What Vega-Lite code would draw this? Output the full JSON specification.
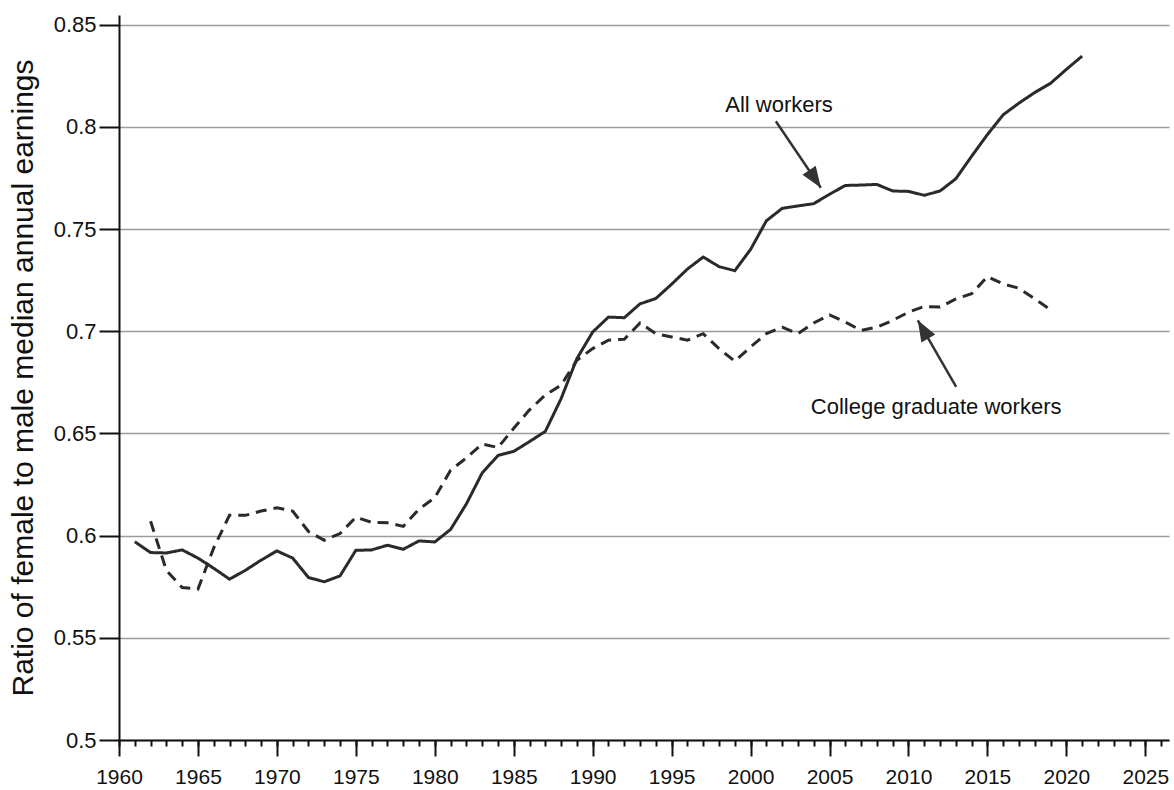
{
  "$schema": "https://vega.github.io/schema/vega-lite/v6.json",
  "width": 1050,
  "height": 725,
  "autosize": {"type": "none"},
  "padding": {"left": 119, "top": 15, "right": 5, "bottom": 50},
  "background": "white",
  "config": {
    "view": {"stroke": null},
    "font": "Liberation Sans",
    "axis": {
      "domainColor": "#111", "domainWidth": 2,
      "tickColor": "#111", "tickWidth": 2,
      "labelColor": "#111", "labelFont": "Liberation Sans",
      "titleColor": "#111", "titleFont": "Liberation Sans", "titleFontWeight": "normal"
    }
  },
  "resolve": {"axis": {"x": "independent"}},
  "datasets": {
    "series": [
      {"year": 1961, "series": "All workers", "ratio": 0.597},
      {"year": 1962, "series": "All workers", "ratio": 0.5917},
      {"year": 1963, "series": "All workers", "ratio": 0.5915},
      {"year": 1964, "series": "All workers", "ratio": 0.593},
      {"year": 1965, "series": "All workers", "ratio": 0.589},
      {"year": 1966, "series": "All workers", "ratio": 0.584},
      {"year": 1967, "series": "All workers", "ratio": 0.5787},
      {"year": 1968, "series": "All workers", "ratio": 0.583},
      {"year": 1969, "series": "All workers", "ratio": 0.588},
      {"year": 1970, "series": "All workers", "ratio": 0.5925},
      {"year": 1971, "series": "All workers", "ratio": 0.589},
      {"year": 1972, "series": "All workers", "ratio": 0.5795},
      {"year": 1973, "series": "All workers", "ratio": 0.5774},
      {"year": 1974, "series": "All workers", "ratio": 0.5803},
      {"year": 1975, "series": "All workers", "ratio": 0.5928},
      {"year": 1976, "series": "All workers", "ratio": 0.593},
      {"year": 1977, "series": "All workers", "ratio": 0.5953},
      {"year": 1978, "series": "All workers", "ratio": 0.5933},
      {"year": 1979, "series": "All workers", "ratio": 0.5974},
      {"year": 1980, "series": "All workers", "ratio": 0.5969},
      {"year": 1981, "series": "All workers", "ratio": 0.603},
      {"year": 1982, "series": "All workers", "ratio": 0.6155},
      {"year": 1983, "series": "All workers", "ratio": 0.6306},
      {"year": 1984, "series": "All workers", "ratio": 0.6392},
      {"year": 1985, "series": "All workers", "ratio": 0.6412},
      {"year": 1986, "series": "All workers", "ratio": 0.646},
      {"year": 1987, "series": "All workers", "ratio": 0.651},
      {"year": 1988, "series": "All workers", "ratio": 0.667},
      {"year": 1989, "series": "All workers", "ratio": 0.6866},
      {"year": 1990, "series": "All workers", "ratio": 0.6996},
      {"year": 1991, "series": "All workers", "ratio": 0.7069},
      {"year": 1992, "series": "All workers", "ratio": 0.7066},
      {"year": 1993, "series": "All workers", "ratio": 0.7134},
      {"year": 1994, "series": "All workers", "ratio": 0.716},
      {"year": 1995, "series": "All workers", "ratio": 0.723},
      {"year": 1996, "series": "All workers", "ratio": 0.7304},
      {"year": 1997, "series": "All workers", "ratio": 0.7363},
      {"year": 1998, "series": "All workers", "ratio": 0.7316},
      {"year": 1999, "series": "All workers", "ratio": 0.7296},
      {"year": 2000, "series": "All workers", "ratio": 0.74},
      {"year": 2001, "series": "All workers", "ratio": 0.754},
      {"year": 2002, "series": "All workers", "ratio": 0.7601},
      {"year": 2003, "series": "All workers", "ratio": 0.7613},
      {"year": 2004, "series": "All workers", "ratio": 0.7624},
      {"year": 2005, "series": "All workers", "ratio": 0.767},
      {"year": 2006, "series": "All workers", "ratio": 0.7713},
      {"year": 2007, "series": "All workers", "ratio": 0.7715},
      {"year": 2008, "series": "All workers", "ratio": 0.7718},
      {"year": 2009, "series": "All workers", "ratio": 0.7686},
      {"year": 2010, "series": "All workers", "ratio": 0.7684},
      {"year": 2011, "series": "All workers", "ratio": 0.7665},
      {"year": 2012, "series": "All workers", "ratio": 0.7686},
      {"year": 2013, "series": "All workers", "ratio": 0.7746},
      {"year": 2014, "series": "All workers", "ratio": 0.7856},
      {"year": 2015, "series": "All workers", "ratio": 0.7962},
      {"year": 2016, "series": "All workers", "ratio": 0.8059},
      {"year": 2017, "series": "All workers", "ratio": 0.8116},
      {"year": 2018, "series": "All workers", "ratio": 0.8168},
      {"year": 2019, "series": "All workers", "ratio": 0.8213},
      {"year": 2020, "series": "All workers", "ratio": 0.8281},
      {"year": 2021, "series": "All workers", "ratio": 0.8346},
      {"year": 1962, "series": "College graduate workers", "ratio": 0.607},
      {"year": 1963, "series": "College graduate workers", "ratio": 0.583},
      {"year": 1964, "series": "College graduate workers", "ratio": 0.5746},
      {"year": 1965, "series": "College graduate workers", "ratio": 0.5738},
      {"year": 1966, "series": "College graduate workers", "ratio": 0.594},
      {"year": 1967, "series": "College graduate workers", "ratio": 0.61},
      {"year": 1968, "series": "College graduate workers", "ratio": 0.6099},
      {"year": 1969, "series": "College graduate workers", "ratio": 0.612},
      {"year": 1970, "series": "College graduate workers", "ratio": 0.6136},
      {"year": 1971, "series": "College graduate workers", "ratio": 0.612},
      {"year": 1972, "series": "College graduate workers", "ratio": 0.602},
      {"year": 1973, "series": "College graduate workers", "ratio": 0.5977},
      {"year": 1974, "series": "College graduate workers", "ratio": 0.601},
      {"year": 1975, "series": "College graduate workers", "ratio": 0.609},
      {"year": 1976, "series": "College graduate workers", "ratio": 0.6065},
      {"year": 1977, "series": "College graduate workers", "ratio": 0.6063},
      {"year": 1978, "series": "College graduate workers", "ratio": 0.6045},
      {"year": 1979, "series": "College graduate workers", "ratio": 0.613},
      {"year": 1980, "series": "College graduate workers", "ratio": 0.6185},
      {"year": 1981, "series": "College graduate workers", "ratio": 0.632},
      {"year": 1982, "series": "College graduate workers", "ratio": 0.638},
      {"year": 1983, "series": "College graduate workers", "ratio": 0.6448},
      {"year": 1984, "series": "College graduate workers", "ratio": 0.6431},
      {"year": 1985, "series": "College graduate workers", "ratio": 0.6525},
      {"year": 1986, "series": "College graduate workers", "ratio": 0.6615},
      {"year": 1987, "series": "College graduate workers", "ratio": 0.6688},
      {"year": 1988, "series": "College graduate workers", "ratio": 0.6736},
      {"year": 1989, "series": "College graduate workers", "ratio": 0.6858},
      {"year": 1990, "series": "College graduate workers", "ratio": 0.6915},
      {"year": 1991, "series": "College graduate workers", "ratio": 0.6956},
      {"year": 1992, "series": "College graduate workers", "ratio": 0.6961},
      {"year": 1993, "series": "College graduate workers", "ratio": 0.704},
      {"year": 1994, "series": "College graduate workers", "ratio": 0.6988},
      {"year": 1995, "series": "College graduate workers", "ratio": 0.6972},
      {"year": 1996, "series": "College graduate workers", "ratio": 0.6956},
      {"year": 1997, "series": "College graduate workers", "ratio": 0.6988},
      {"year": 1998, "series": "College graduate workers", "ratio": 0.6915},
      {"year": 1999, "series": "College graduate workers", "ratio": 0.6853},
      {"year": 2000, "series": "College graduate workers", "ratio": 0.6923},
      {"year": 2001, "series": "College graduate workers", "ratio": 0.6988},
      {"year": 2002, "series": "College graduate workers", "ratio": 0.702},
      {"year": 2003, "series": "College graduate workers", "ratio": 0.6988},
      {"year": 2004, "series": "College graduate workers", "ratio": 0.704},
      {"year": 2005, "series": "College graduate workers", "ratio": 0.708},
      {"year": 2006, "series": "College graduate workers", "ratio": 0.7045},
      {"year": 2007, "series": "College graduate workers", "ratio": 0.7004},
      {"year": 2008, "series": "College graduate workers", "ratio": 0.702},
      {"year": 2009, "series": "College graduate workers", "ratio": 0.7053},
      {"year": 2010, "series": "College graduate workers", "ratio": 0.7093},
      {"year": 2011, "series": "College graduate workers", "ratio": 0.7121},
      {"year": 2012, "series": "College graduate workers", "ratio": 0.7118},
      {"year": 2013, "series": "College graduate workers", "ratio": 0.7158},
      {"year": 2014, "series": "College graduate workers", "ratio": 0.7183},
      {"year": 2015, "series": "College graduate workers", "ratio": 0.7267},
      {"year": 2016, "series": "College graduate workers", "ratio": 0.7231},
      {"year": 2017, "series": "College graduate workers", "ratio": 0.721},
      {"year": 2018, "series": "College graduate workers", "ratio": 0.7158},
      {"year": 2019, "series": "College graduate workers", "ratio": 0.7105}
    ],
    "labels": [
      {"text": "All workers", "year": 2001.8, "ratio": 0.8106},
      {"text": "College graduate workers", "year": 2011.75, "ratio": 0.6631}
    ],
    "arrows": [
      {"label": "All workers", "year": 2001.6, "ratio": 0.8027, "year_end": 2004.45, "ratio_end": 0.7702},
      {"label": "College graduate workers", "year": 2013.02, "ratio": 0.6728, "year_end": 2010.59, "ratio_end": 0.7053}
    ],
    "arrowheads": [
      {"label": "All workers", "year": 2004.45, "ratio": 0.7702},
      {"label": "College graduate workers", "year": 2010.59, "ratio": 0.7053}
    ]
  },
  "encoding": {
    "y": {
      "field": "ratio", "type": "quantitative",
      "title": "Ratio of female to male median annual earnings",
      "scale": {"domain": [0.5, 0.8547], "nice": false, "zero": false},
      "axis": {
        "values": [0.5, 0.55, 0.6, 0.65, 0.7, 0.75, 0.8, 0.85],
        "format": ".2~f",
        "grid": true, "gridColor": "#9a9a9a", "gridWidth": 1.5,
        "tickSize": 20,
        "labelPadding": 3, "labelFontSize": 22,
        "titleFontSize": 30,
        "titlePadding": 15
      }
    }
  },
  "layer": [
    {
      "data": {"name": "series"},
      "mark": {"type": "line", "strokeWidth": 3, "color": "#2a2a2a"},
      "encoding": {
        "x": {
          "field": "year", "type": "quantitative", "title": null,
          "scale": {"domain": [1960, 2026.5], "nice": false, "zero": false},
          "axis": {
            "orient": "bottom",
            "values": [1960,1961,1962,1963,1964,1965,1966,1967,1968,1969,1970,1971,1972,1973,1974,1975,1976,1977,1978,1979,1980,1981,1982,1983,1984,1985,1986,1987,1988,1989,1990,1991,1992,1993,1994,1995,1996,1997,1998,1999,2000,2001,2002,2003,2004,2005,2006,2007,2008,2009,2010,2011,2012,2013,2014,2015,2016,2017,2018,2019,2020,2021,2022,2023,2024,2025,2026],
            "labels": false,
            "grid": false,
            "tickSize": 6
          }
        },
        "strokeDash": {
          "field": "series", "type": "nominal",
          "scale": {"domain": ["All workers", "College graduate workers"], "range": [[1, 0], [11, 7]]},
          "legend": null
        }
      }
    },
    {
      "data": {"name": "arrows"},
      "mark": {"type": "rule", "strokeWidth": 2.5, "color": "#333"},
      "encoding": {
        "x": {
          "field": "year", "type": "quantitative", "title": null,
          "axis": {
            "orient": "bottom",
            "values": [1960, 1965, 1970, 1975, 1980, 1985, 1990, 1995, 2000, 2005, 2010, 2015, 2020, 2025],
            "format": "d",
            "labelOverlap": false,
            "labelFlush": false,
            "labelBound": false,
            "grid": false,
            "domain": false,
            "tickSize": 16,
            "labelPadding": 10,
            "labelFontSize": 21
          }
        },
        "x2": {"field": "year_end"},
        "y2": {"field": "ratio_end"}
      }
    },
    {
      "data": {"name": "arrowheads"},
      "transform": [{"filter": "datum.label === 'All workers'"}],
      "mark": {"type": "point", "shape": "M0,0L-0.8,2.1L0.8,2.1Z", "filled": true, "size": 400, "angle": 146, "color": "#333", "opacity": 1},
      "encoding": {
        "x": {"field": "year", "type": "quantitative", "axis": null}
      }
    },
    {
      "data": {"name": "arrowheads"},
      "transform": [{"filter": "datum.label === 'College graduate workers'"}],
      "mark": {"type": "point", "shape": "M0,0L-0.8,2.1L0.8,2.1Z", "filled": true, "size": 400, "angle": 330, "color": "#333", "opacity": 1},
      "encoding": {
        "x": {"field": "year", "type": "quantitative", "axis": null}
      }
    },
    {
      "data": {"name": "labels"},
      "mark": {"type": "text", "font": "Liberation Sans", "fontSize": 22, "color": "#111"},
      "encoding": {
        "x": {"field": "year", "type": "quantitative", "axis": null},
        "text": {"field": "text"}
      }
    }
  ]
}
